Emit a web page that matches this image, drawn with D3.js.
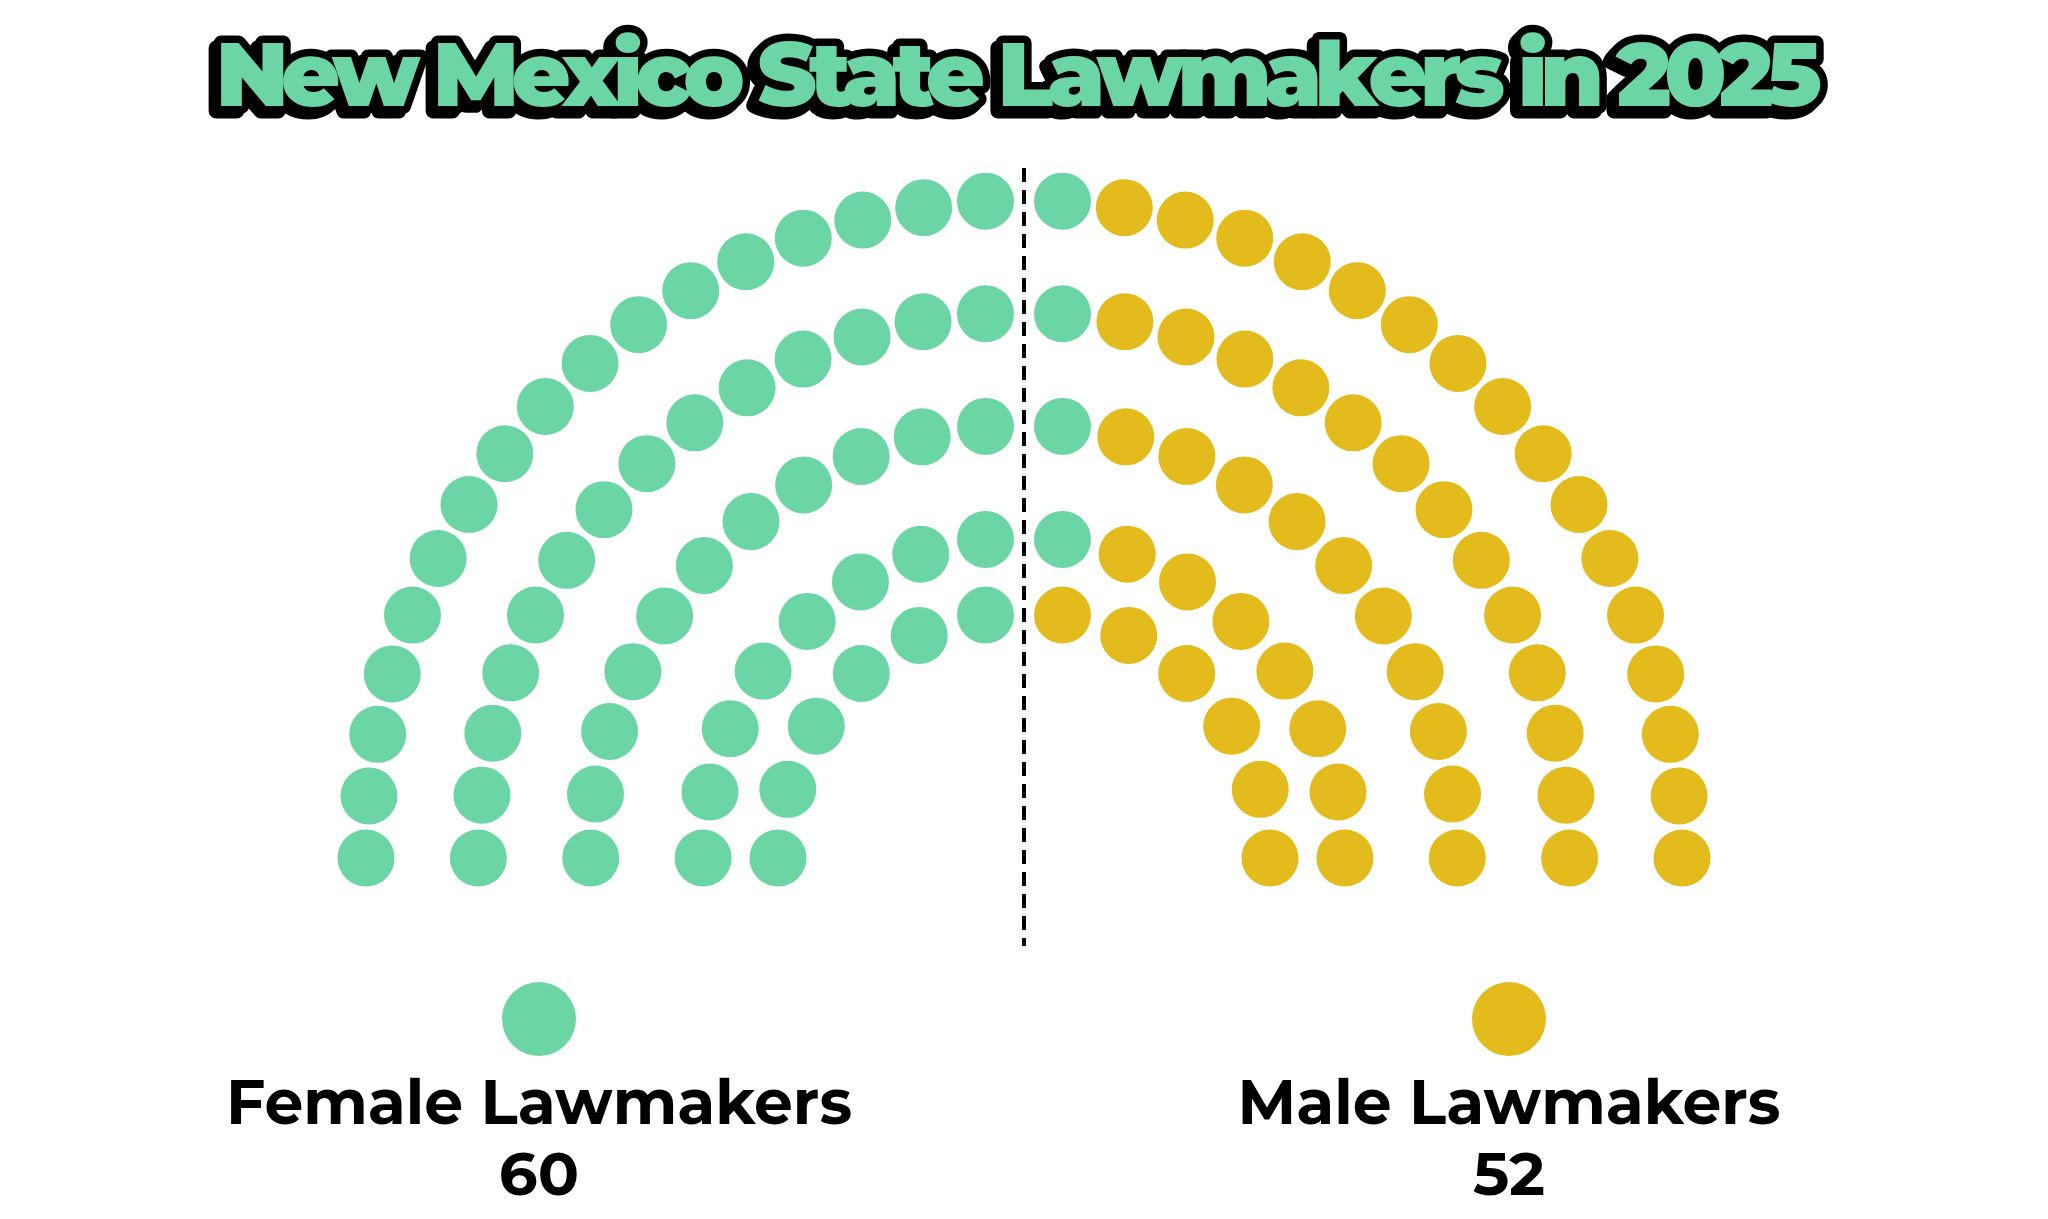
<!DOCTYPE html>
<html>
<head>
<meta charset="utf-8">
<script src="https://cdn.jsdelivr.net/npm/d3@7"></script>
<style>
  html, body { margin: 0; padding: 0; background: #fff; }
  svg { display: block; }
</style>
</head>
<body>
<div id="chart"></div>
<script>
// seats per row, outer row first
const rowSeats = [34, 28, 22, 16, 12];
// groups, in seating order from left
const groups = ['Female Lawmakers', 'Male Lawmakers'];
const groupCounts = [60, 52];
const titleText = 'New Mexico State Lawmakers in 2025';

const width = 2048;
const height = 1219;
const cx = 1024; //centre of the arch
const cy = 858;
const seatR = 28.5;
const halfGap = 38.5; //horizontal gap either side of the divider
const titleWidth = 1606;

const color = d3.scaleOrdinal()
  .domain(groups)
  .range(['#6cd5a6', '#e4bb1c']);

//row radius grows with the number of seats in it
const radius = d3.scaleLinear()
  .domain([d3.min(rowSeats), d3.max(rowSeats)])
  .range([246, 658]);

const svg = d3.select('#chart')
  .append('svg')
  .attr('width', width)
  .attr('height', height)
  .attr('viewBox', [0, 0, width, height]);

//shadow for the title outline
var shadow = svg.append('defs')
  .append('filter')
  .attr('id', 'titleShadow')
  .attr('filterUnits', 'userSpaceOnUse')
  .attr('x', 0).attr('y', 0)
  .attr('width', width).attr('height', 200);
shadow.append('feOffset')
  .attr('in', 'SourceAlpha')
  .attr('dx', -5).attr('dy', 5)
  .attr('result', 'off');
var merge = shadow.append('feMerge');
merge.append('feMergeNode').attr('in', 'off');
merge.append('feMergeNode').attr('in', 'SourceGraphic');

//build the seats: each row is split in two quarter arcs
var seats = [];
rowSeats.forEach(function (n, row) {
  var r = radius(n);
  var half = n / 2;
  var a0 = Math.asin(halfGap / r);
  var step = (Math.PI / 2 - a0) / (half - 1);
  for (var k = 0; k < half; k++) {
    seats.push({ row: row, r: r, angle: Math.PI - k * step });
    seats.push({ row: row, r: r, angle: Math.PI / 2 - a0 - k * step });
  }
});
//fill from the left, by angle
seats.sort(function (a, b) { return b.angle - a.angle; });
var cum = d3.cumsum(groupCounts);
seats.forEach(function (s, i) {
  s.group = groups[d3.bisectRight(cum, i)];
  s.x = cx + s.r * Math.cos(s.angle);
  s.y = cy - s.r * Math.sin(s.angle);
});

//divider
svg.append('line')
  .attr('x1', cx).attr('x2', cx)
  .attr('y1', 168).attr('y2', 946)
  .attr('stroke', '#000')
  .attr('stroke-width', 4)
  .attr('stroke-dasharray', '14 8');

svg.append('g')
  .selectAll('circle')
  .data(seats)
  .enter()
  .append('circle')
  .attr('cx', function (d) { return d.x; })
  .attr('cy', function (d) { return d.y; })
  .attr('r', seatR)
  .attr('fill', function (d) { return color(d.group); });

//title: green text, black outline and a shadow
var title = svg.append('text')
  .attr('x', 1019)
  .attr('y', 106)
  .attr('text-anchor', 'middle')
  .attr('font-family', 'Montserrat, Inter, Lato, sans-serif')
  .attr('font-weight', 900)
  .attr('font-size', 90)
  .attr('fill', '#6cd5a6')
  .attr('stroke', '#000')
  .attr('stroke-width', 15)
  .attr('stroke-linejoin', 'round')
  .attr('paint-order', 'stroke')
  .attr('filter', 'url(#titleShadow)')
  .text(titleText);
//tighten the letters so the title spans the same width
var natural = title.node().getComputedTextLength();
var spacing = (titleWidth - natural) / (titleText.length - 1);
title.attr('letter-spacing', spacing)
  .attr('dx', spacing / 2);

//legend
var legendX = d3.scalePoint()
  .domain(groups)
  .range([539, 1509]);

var legend = svg.append('g')
  .selectAll('g')
  .data(groups)
  .enter()
  .append('g')
  .attr('transform', function (d) { return 'translate(' + legendX(d) + ',0)'; });

legend.append('circle')
  .attr('cy', 1019)
  .attr('r', 37)
  .attr('fill', function (d) { return color(d); });

legend.append('text')
  .attr('y', 1124)
  .attr('text-anchor', 'middle')
  .attr('font-family', 'Montserrat, Inter, "Open Sans", sans-serif')
  .attr('font-weight', 700)
  .attr('font-size', 61.5)
  .attr('fill', '#000')
  .text(function (d) { return d; });

legend.append('text')
  .attr('y', 1195)
  .attr('text-anchor', 'middle')
  .attr('font-family', 'Montserrat, Inter, "Open Sans", sans-serif')
  .attr('font-weight', 700)
  .attr('font-size', 61)
  .attr('fill', '#000')
  .text(function (d, i) { return groupCounts[i]; });
</script>
</body>
</html>
